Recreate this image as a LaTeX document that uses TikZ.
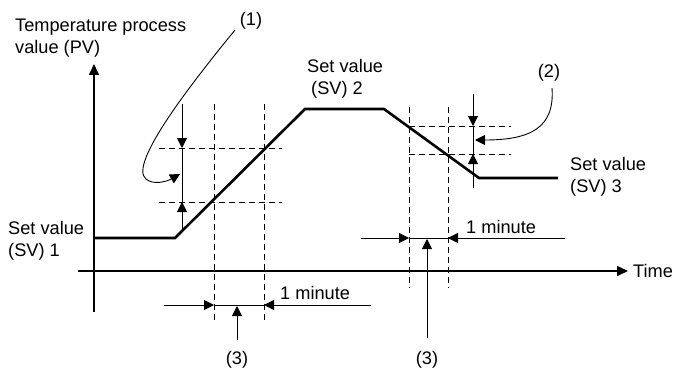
\documentclass[tikz,border=0pt]{standalone}
\usepackage{fontspec}
\setmainfont{Liberation Sans}
\usetikzlibrary{arrows.meta}
\tikzset{
  lbl/.style={inner sep=0pt, font=\fontsize{18.2}{22}\selectfont, align=left},
  thin/.style={line width=0.9pt},
  axis/.style={line width=1.6pt},
  prof/.style={line width=2.6pt, line join=miter},
  dsh/.style={line width=0.9pt, dash pattern=on 6pt off 4pt},
  tip/.style={-{Triangle[length=10pt,width=10pt]}},
}
\begin{document}
\begin{tikzpicture}[x=1pt,y=-1pt]
\useasboundingbox (0,0) rectangle (675,369);
% coordinates
\coordinate (yb) at (94,312); \coordinate (yt) at (94,64);
\coordinate (xl) at (78,271); \coordinate (xr) at (628,271);
\coordinate (p0) at (94,238); \coordinate (p1) at (175,238);
\coordinate (p2) at (305,109); \coordinate (p3) at (384,109);
\coordinate (p4) at (479,178); \coordinate (p5) at (558,178);
% axes
\draw[axis,-{Triangle[length=11pt,width=10pt]}] (yb) -- (yt);
\draw[axis,-{Triangle[length=11pt,width=10pt]}] (xl) -- (xr);
% dashed guides, rising ramp
\coordinate (d1t) at (214,104); \coordinate (d1b) at (214,323);
\coordinate (d2t) at (264,104); \coordinate (d2b) at (264,323);
\coordinate (h1l) at (159,148); \coordinate (h1r) at (282,148);
\coordinate (h2l) at (159,202); \coordinate (h2r) at (282,202);
\draw[dsh] (d1t) -- (d1b); \draw[dsh] (d2t) -- (d2b);
\draw[dsh] (h1l) -- (h1r); \draw[dsh] (h2l) -- (h2r);
% dashed guides, falling ramp
\coordinate (e1t) at (409,107); \coordinate (e1b) at (409,288);
\coordinate (e2t) at (448,107); \coordinate (e2b) at (448,288);
\coordinate (g1l) at (409,126); \coordinate (g1r) at (511,126);
\coordinate (g2l) at (409,154); \coordinate (g2r) at (511,154);
\draw[dsh] (e1t) -- (e1b); \draw[dsh] (e2t) -- (e2b);
\draw[dsh] (g1l) -- (g1r); \draw[dsh] (g2l) -- (g2r);
% profile
\draw[prof] (p0) -- (p1) -- (p2) -- (p3) -- (p4) -- (p5);
% band arrows (1)
\coordinate (a1t) at (182,104); \coordinate (a1m) at (182,148);
\coordinate (a1n) at (182,202); \coordinate (a1b) at (182,231);
\draw[thin] (a1m) -- (a1n);
\draw[thin,tip] (a1t) -- (a1m);
\draw[thin,tip] (a1b) -- (a1n);
% band arrows (2)
\coordinate (b1t) at (473,94); \coordinate (b1m) at (473,126);
\coordinate (b1n) at (473,154); \coordinate (b1b) at (473,188);
\draw[thin] (b1m) -- (b1n);
\draw[thin,tip] (b1t) -- (b1m);
\draw[thin,tip] (b1b) -- (b1n);
% labels (base anchor = baseline of last line)
\node[lbl, anchor=base west] (tpv) at (15,53.5) {Temperature process\\value (PV)};
\node[lbl, anchor=base west] (sv1) at (8,256) {Set value\\(SV) 1};
\node[lbl, anchor=base west] (sv2) at (307,95) {Set value\\\hspace*{4pt}(SV) 2};
\node[lbl, anchor=base west] (sv3) at (570,192.5) {Set value\\(SV) 3};
\node[lbl, anchor=west] (time) at (633,271) {Time};
\node[lbl] (n1) at (251,21) {(1)};
\node[lbl] (n2) at (549,73) {(2)};
\node[lbl] (n3a) at (237,360) {(3)};
\node[lbl] (n3b) at (427,360) {(3)};
\node[lbl, anchor=west] (m1) at (280,293) {1 minute};
\node[lbl, anchor=west] (m2) at (466,227) {1 minute};
% callout (1)
\coordinate (c1s) at (235,30);
\coordinate (c1e) at (180,174);
\draw[thin,tip] (c1s) .. controls (190,85) and (128,165) .. (146,179)
  .. controls (153,185) and (166,182) .. (c1e);
% callout (2)
\coordinate (c2s) at (552,88);
\coordinate (c2e) at (475,140);
\draw[thin,tip] (c2s) .. controls (555,128) and (530,140) .. (c2e);
% one-minute dimension, bottom
\coordinate (q1l) at (164,305); \coordinate (q1a) at (214,305);
\coordinate (q1b) at (264,305); \coordinate (q1r) at (371,305);
\draw[thin] (q1a) -- (q1b);
\draw[thin,tip] (q1l) -- (q1a);
\draw[thin,tip] (q1r) -- (q1b);
\coordinate (r1b) at (237,340); \coordinate (r1t) at (237,306);
\draw[thin,tip] (r1b) -- (r1t);
% one-minute dimension, right
\coordinate (q2l) at (361,238); \coordinate (q2a) at (409,238);
\coordinate (q2b) at (448,238); \coordinate (q2r) at (565,238);
\draw[thin] (q2a) -- (q2b);
\draw[thin,tip] (q2l) -- (q2a);
\draw[thin,tip] (q2r) -- (q2b);
\coordinate (r2b) at (427,338); \coordinate (r2t) at (427,239);
\draw[thin,tip] (r2b) -- (r2t);
\end{tikzpicture}
\end{document}
